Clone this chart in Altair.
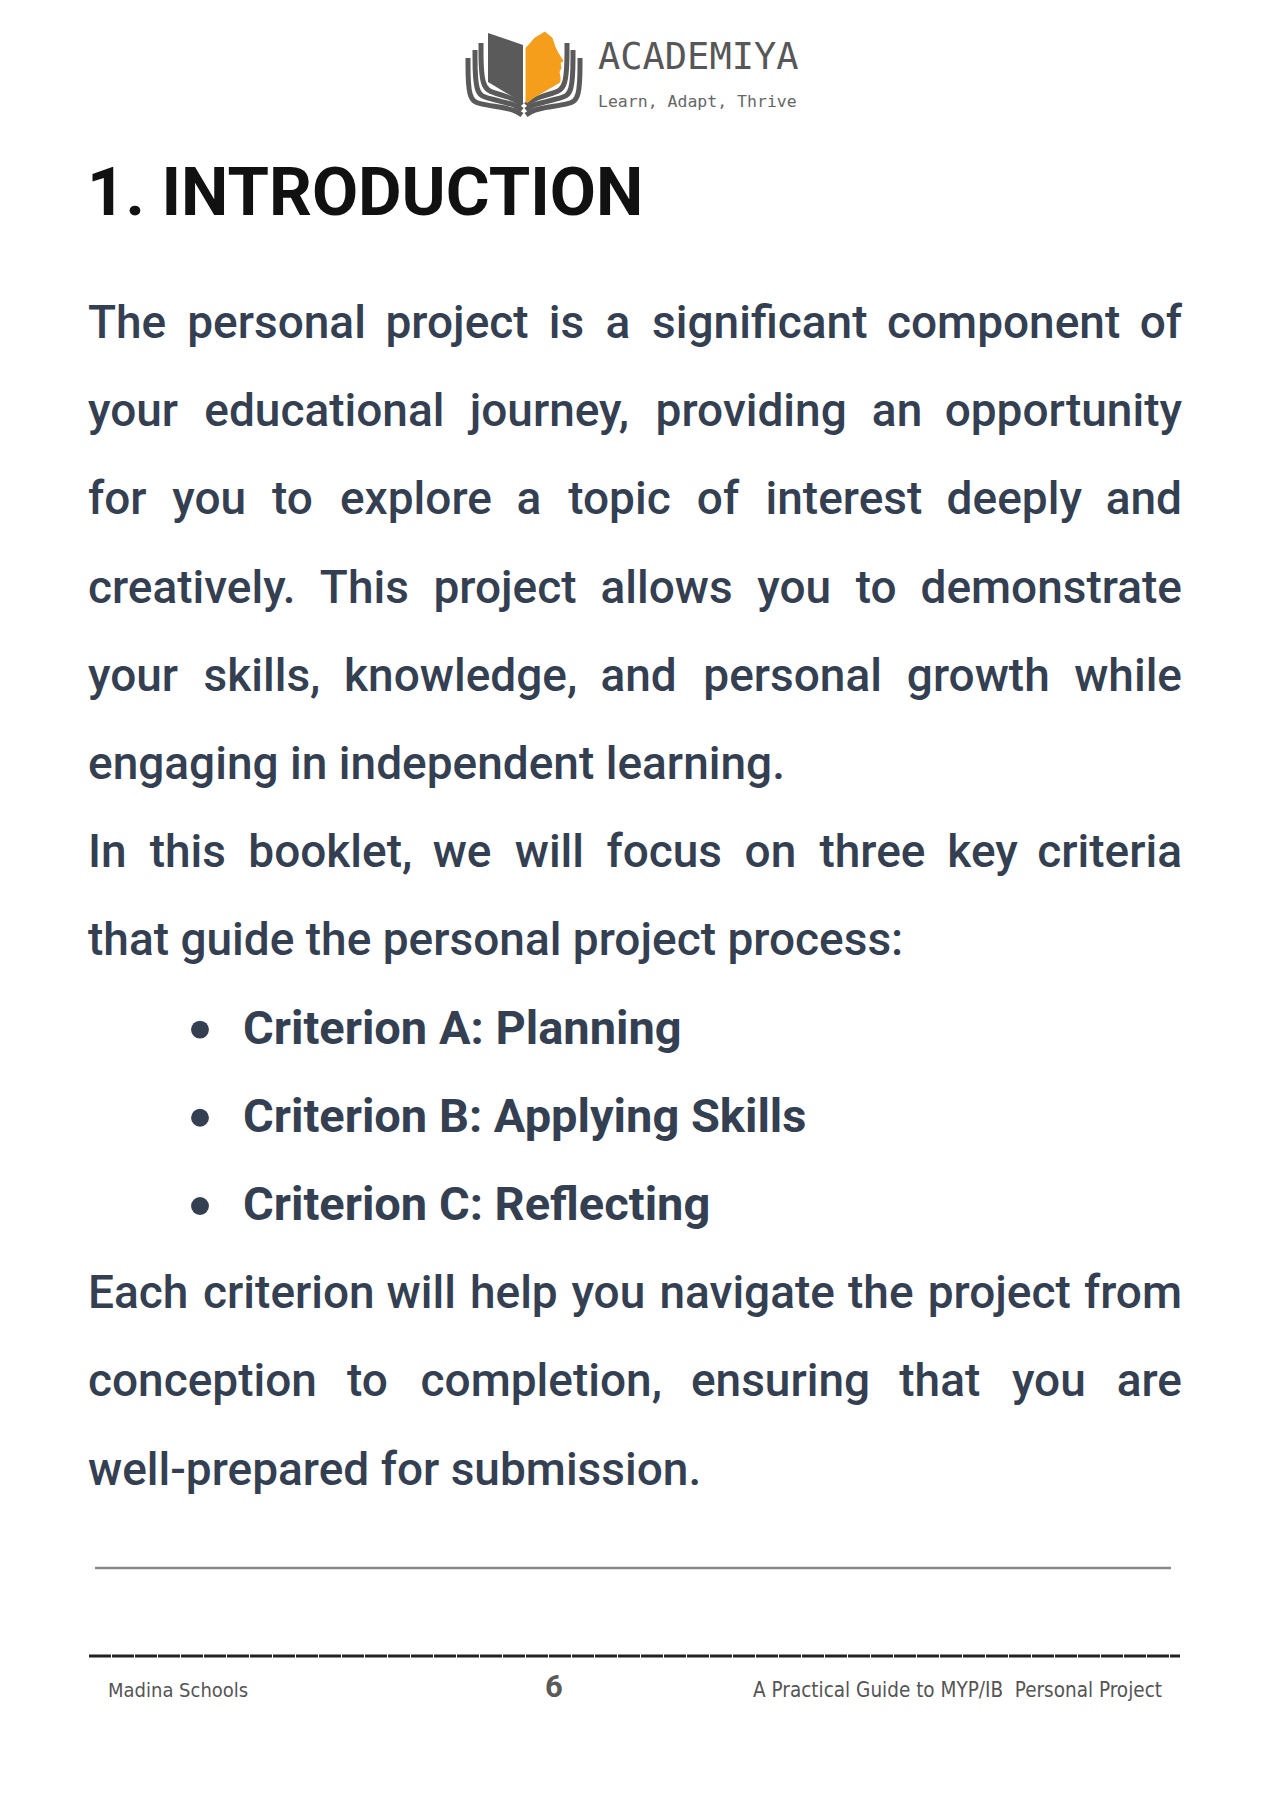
import altair as alt
import pandas as pd

# ---- page text ----
heading = "1. INTRODUCTION"
body_lines = [
    "The personal project is a significant component of",
    "your educational journey, providing an opportunity",
    "for you to explore a topic of interest deeply and",
    "creatively. This project allows you to demonstrate",
    "your skills, knowledge, and personal growth while",
    "engaging in independent learning.",
    "In this booklet, we will focus on three key criteria",
    "that guide the personal project process:",
]
body_justified = [True, True, True, True, True, False, True, False]
bullets = ["Criterion A: Planning", "Criterion B: Applying Skills", "Criterion C: Reflecting"]
closing_lines = [
    "Each criterion will help you navigate the project from",
    "conception to completion, ensuring that you are",
    "well-prepared for submission.",
]
closing_justified = [True, True, False]

brand = "ACADEMIYA"
tagline = "Learn, Adapt, Thrive"
footer_left = "Madina Schools"
page_number = "6"
footer_right = "A Practical Guide to MYP/IB \u00a0Personal Project"

# ---- logo outline (page pixels) ----
left_page_x = [488, 523]
left_page_top = [33, 45]
left_page_bottom = [82, 103]
face_x = [526, 526, 535, 545, 552, 555, 558, 563, 560, 561, 559, 560, 560, 555, 543, 533, 527]
face_y = [102, 48, 38, 32, 38, 47, 53, 61, 63, 68, 72, 77, 82, 85, 92, 98, 103]
layer_x = [
    [468, 468, 480, 500, 515, 522],
    [475, 475, 488, 503, 516, 522],
    [481, 481, 495, 508, 518, 522],
]
layer_y = [
    [58, 100, 104, 107, 110, 115],
    [50, 95, 98, 102, 105, 110],
    [43, 89, 93, 97, 101, 105],
]
SPINE = 524

# ---- layout ----
W, H = 1249, 1784
XS = alt.Scale(domain=[8, 8 + W], nice=False, zero=False)
YS = alt.Scale(domain=[8, 8 + H], nice=False, zero=False, reverse=True)
TEXT_LEFT, TEXT_RIGHT = 88, 1182
FIRST_BASELINE, LINE_H = 338, 88.2
BODY_SIZE = 46
INK = "#343f52"

# Roboto medium advance widths (em), used to justify lines
ROBOTO = {
    " ": .250, "a": .541, "b": .556, "c": .520, "d": .560, "e": .527, "f": .344,
    "g": .557, "h": .547, "i": .245, "j": .240, "k": .506, "l": .245, "m": .870,
    "n": .548, "o": .567, "p": .556, "q": .563, "r": .340, "s": .513, "t": .327,
    "u": .547, "v": .482, "w": .746, "x": .494, "y": .471, "z": .494,
    "T": .610, "I": .280, "E": .563, "C": .648, ",": .200, ".": .262, ":": .242,
    "-": .276,
}


def text_width(s, size):
    return sum(ROBOTO.get(c, .56) for c in s) * size


def place_lines(lines, justified, start_index):
    left_rows, right_rows = [], []
    for i, (line, just) in enumerate(zip(lines, justified)):
        y = FIRST_BASELINE + (start_index + i) * LINE_H
        if not just:
            left_rows.append({"x": TEXT_LEFT, "y": y, "text": line})
            continue
        words = line.split(" ")
        widths = [text_width(w, BODY_SIZE) for w in words]
        gap = (TEXT_RIGHT - TEXT_LEFT - sum(widths)) / (len(words) - 1)
        x = TEXT_LEFT
        for j, (w, ww) in enumerate(zip(words, widths)):
            if j == len(words) - 1:
                right_rows.append({"x": TEXT_RIGHT, "y": y, "text": w})
            else:
                left_rows.append({"x": x, "y": y, "text": w})
            x += ww + gap
    return left_rows, right_rows


body_l, body_r = place_lines(body_lines, body_justified, 0)
close_l, close_r = place_lines(closing_lines, closing_justified, len(body_lines) + len(bullets))
body_left = pd.DataFrame(body_l + close_l)
body_right = pd.DataFrame(body_r + close_r)

bullet_df = pd.DataFrame({
    "text": bullets,
    "y": [FIRST_BASELINE + (len(body_lines) + k) * LINE_H for k in range(len(bullets))],
})
bullet_df["x"] = 243
bullet_df["dot_x"] = 200
bullet_df["dot_y"] = bullet_df["y"] - 14


def pos(xf="x", yf="y"):
    return dict(x=alt.X(f"{xf}:Q", scale=XS, axis=None), y=alt.Y(f"{yf}:Q", scale=YS, axis=None))


def text_layer(df, **kw):
    return alt.Chart(df).mark_text(baseline="alphabetic", **kw).encode(text="text:N", **pos())


heading_layer = text_layer(
    pd.DataFrame({"x": [87], "y": [215], "text": [heading]}),
    align="left", font="Roboto", fontWeight="bold", fontSize=67, color="#111111",
)
body_left_layer = text_layer(
    body_left, align="left", font="Roboto", fontWeight=500, fontSize=BODY_SIZE, color=INK
)
body_right_layer = text_layer(
    body_right, align="right", font="Roboto", fontWeight=500, fontSize=BODY_SIZE, color=INK
)
bullet_text_layer = text_layer(
    bullet_df, align="left", font="Roboto", fontWeight="bold", fontSize=47, color=INK
)
bullet_dot_layer = alt.Chart(bullet_df).mark_circle(size=320, opacity=1, color=INK).encode(
    **pos("dot_x", "dot_y")
)

# header brand
brand_layer = text_layer(
    pd.DataFrame({"x": [598], "y": [69], "text": [brand]}),
    align="left", font="DejaVu Sans Mono", fontSize=37, color="#575757",
)
tagline_layer = text_layer(
    pd.DataFrame({"x": [598], "y": [107], "text": [tagline]}),
    align="left", font="DejaVu Sans Mono", fontSize=16.5, color="#666666",
)
page_df = pd.DataFrame({"x": left_page_x, "y": left_page_top, "y2": left_page_bottom})
left_page_layer = alt.Chart(page_df).mark_area(color="#5a5a5a", opacity=1).encode(
    y2="y2:Q", **pos()
)
face_df = pd.DataFrame({"x": face_x, "y": face_y, "k": range(len(face_x))})
face_layer = alt.Chart(face_df).mark_line(fill="#f59e1b", stroke="#f59e1b", strokeWidth=1).encode(
    order="k:Q", **pos()
)
strokes = []
for side in ("left", "right"):
    for li, (xs, ys) in enumerate(zip(layer_x, layer_y)):
        for k, (lx, ly) in enumerate(zip(xs, ys)):
            px = lx if side == "left" else 2 * SPINE - lx
            strokes.append({"x": px, "y": ly, "k": k, "path": f"{side}{li}"})
layers_layer = alt.Chart(pd.DataFrame(strokes)).mark_line(
    color="#5a5a5a", strokeWidth=5, interpolate="basis", strokeCap="butt"
).encode(order="k:Q", detail="path:N", **pos())

# footer
rule_df = pd.DataFrame({"x": [95, 89], "x2": [1171, 1180], "y": [1568, 1656], "kind": ["thin", "thick"]})
thin_rule = alt.Chart(rule_df[rule_df.kind == "thin"]).mark_rule(color="#8a8a8a", strokeWidth=2.5).encode(
    x2="x2:Q", **pos()
)
thick_rule = alt.Chart(rule_df[rule_df.kind == "thick"]).mark_rule(
    color="#222222", strokeWidth=3, strokeDash=[22, 1]
).encode(x2="x2:Q", **pos())
footer_left_layer = text_layer(
    pd.DataFrame({"x": [108], "y": [1697], "text": [footer_left]}),
    align="left", font="DejaVu Sans Condensed", fontSize=20, color="#555555",
)
footer_right_layer = text_layer(
    pd.DataFrame({"x": [1162], "y": [1697], "text": [footer_right]}),
    align="right", font="DejaVu Sans Condensed", fontSize=20.5, color="#555555",
)
page_num_layer = text_layer(
    pd.DataFrame({"x": [554], "y": [1697], "text": [page_number]}),
    align="center", font="Roboto", fontWeight="bold", fontSize=31, color="#5a5a5a",
)

chart = alt.layer(
    layers_layer, left_page_layer, face_layer, brand_layer, tagline_layer,
    heading_layer, body_left_layer, body_right_layer, bullet_dot_layer, bullet_text_layer,
    thin_rule, thick_rule, footer_left_layer, footer_right_layer, page_num_layer,
).properties(
    width=W, height=H, padding=0, autosize="none", background="white"
).configure_view(strokeWidth=0)

chart.save("out.html", embed_options={"renderer": "svg", "actions": False})
